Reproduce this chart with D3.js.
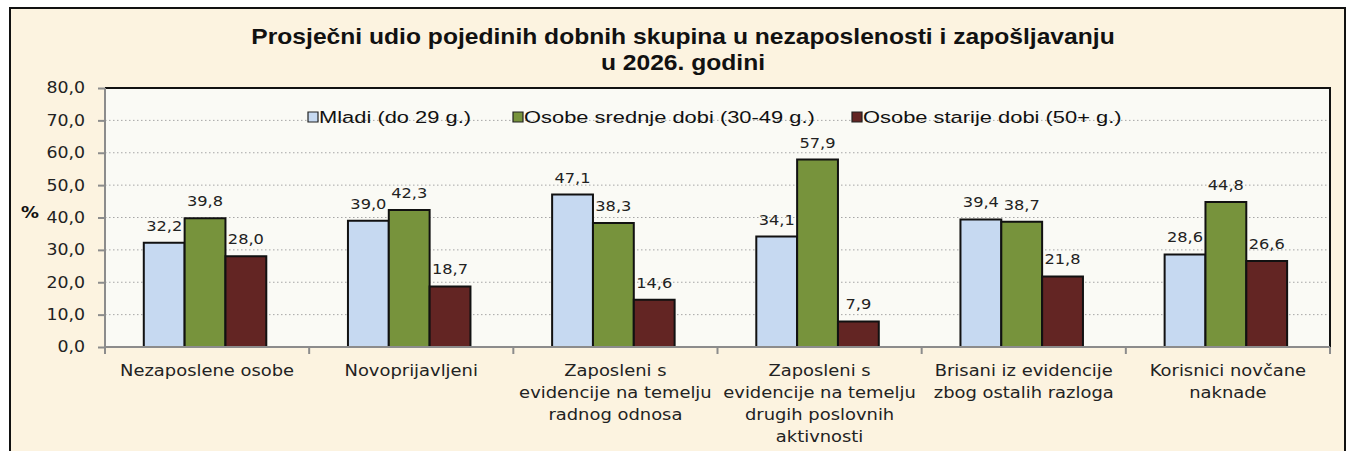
<!DOCTYPE html>
<html>
<head>
<meta charset="utf-8">
<script src="https://cdn.jsdelivr.net/npm/d3@7"></script>
<style>
  html, body { margin: 0; padding: 0; background: #fff; }
  svg { display: block; }
  .grid line { stroke: #a6a6a6; stroke-dasharray: 1.5 2.5; }
</style>
</head>
<body>
<div id="chart"></div>
<script>
// Data
const categories = [
  ['Nezaposlene osobe'],
  ['Novoprijavljeni'],
  ['Zaposleni s', 'evidencije na temelju', 'radnog odnosa'],
  ['Zaposleni s', 'evidencije na temelju', 'drugih poslovnih', 'aktivnosti'],
  ['Brisani iz evidencije', 'zbog ostalih razloga'],
  ['Korisnici novčane', 'naknade']
]
const seriesNames = ['Mladi (do 29 g.)', 'Osobe srednje dobi (30-49 g.)', 'Osobe starije dobi (50+ g.)']
const mladi = [32.2, 39.0, 47.1, 34.1, 39.4, 28.6]
const srednji = [39.8, 42.3, 38.3, 57.9, 38.7, 44.8]
const stariji = [28.0, 18.7, 14.6, 7.9, 21.8, 26.6]
const yTicks = [0, 10, 20, 30, 40, 50, 60, 70, 80]
const titleLines = ['Prosječni udio pojedinih dobnih skupina u nezaposlenosti i zapošljavanju', 'u 2026. godini']

const colors = ['#c6d9f1', '#77933c', '#632523']
const seriesValues = [mladi, srednji, stariji]

// The picture is stretched sideways, so draw in a narrower box and stretch it
const S = 1.12
const px = (x) => x / S
const width = 1348
const height = 451
const W = width / S

const plot = { left: px(105), right: px(1330), top: 88, bottom: 347 }

const svg = d3.select('#chart')
  .append('svg')
  .attr('width', width)
  .attr('height', height)
  .attr('viewBox', `0 0 ${W} ${height}`)
  .attr('preserveAspectRatio', 'none')

// Outer frame
svg.append('rect')
  .attr('x', px(10)).attr('y', 8)
  .attr('width', px(1335)).attr('height', 460)
  .attr('fill', '#fcf3e0')
  .attr('stroke', '#111')
  .attr('stroke-width', 2)
  .attr('vector-effect', 'non-scaling-stroke')

// Title
svg.append('text')
  .attr('text-anchor', 'middle')
  .style('font-family', '"Liberation Sans", Arial, sans-serif')
  .style('font-weight', 'bold')
  .style('font-size', '22px')
  .attr('fill', '#111')
  .selectAll('tspan')
  .data(titleLines)
  .join('tspan')
  .attr('x', px(683))
  .attr('y', (d, i) => 44 + i * 26)
  .text(d => d)

// Plot background
svg.append('rect')
  .attr('x', plot.left).attr('y', plot.top)
  .attr('width', plot.right - plot.left)
  .attr('height', plot.bottom - plot.top)
  .attr('fill', '#fafaf5')

// Scales
const x0 = d3.scaleBand()
  .domain(d3.range(categories.length))
  .range([plot.left, plot.right])
  .padding(0)

const x1 = d3.scaleBand()
  .domain(d3.range(seriesNames.length))
  .range([x0.bandwidth() * 0.19, x0.bandwidth() * 0.79])
  .padding(0)

const y = d3.scaleLinear()
  .domain([0, 80])
  .range([plot.bottom, plot.top])

// Gridlines
svg.append('g')
  .attr('class', 'grid')
  .selectAll('line')
  .data(yTicks.filter(t => t > 0 && t < 80))
  .join('line')
  .attr('x1', plot.left).attr('x2', plot.right)
  .attr('y1', d => y(d)).attr('y2', d => y(d))
  .attr('vector-effect', 'non-scaling-stroke')

// Top and right border of plot area
svg.append('path')
  .attr('d', `M${plot.left},${plot.top}H${plot.right}V${plot.bottom}`)
  .attr('fill', 'none')
  .attr('stroke', '#111')
  .attr('stroke-width', 2)
  .attr('vector-effect', 'non-scaling-stroke')

// Legend (sits on the plot, no box)
const legendX = [308, 513, 852]
const legend = svg.append('g')
  .selectAll('g')
  .data(seriesNames)
  .join('g')
  .attr('transform', (d, i) => `translate(${px(legendX[i])},117)`)

legend.append('rect')
  .attr('x', 0).attr('y', -5)
  .attr('width', px(10)).attr('height', 10)
  .attr('fill', (d, i) => colors[i])
  .attr('stroke', '#222')
  .attr('stroke-width', 1.2)
  .attr('vector-effect', 'non-scaling-stroke')

// legend font is a little wider than Arial in the picture
legend.append('text')
  .attr('transform', `translate(${px(11)},6) scale(1.15,1)`)
  .style('font-family', '"Liberation Sans", Arial, sans-serif')
  .style('font-size', '17px')
  .attr('fill', '#111')
  .text(d => d)

// Bars
const groups = svg.append('g')
  .selectAll('g')
  .data(categories)
  .join('g')
  .attr('transform', (d, i) => `translate(${x0(i)},0)`)

groups.selectAll('rect')
  .data((d, i) => seriesValues.map((vals, s) => ({ s, v: vals[i] })))
  .join('rect')
  .attr('x', d => x1(d.s))
  .attr('y', d => y(d.v))
  .attr('width', x1.bandwidth())
  .attr('height', d => y(0) - y(d.v))
  .attr('fill', d => colors[d.s])
  .attr('stroke', '#111')
  .attr('stroke-width', 2)
  .attr('vector-effect', 'non-scaling-stroke')

groups.selectAll('text.value')
  .data((d, i) => seriesValues.map((vals, s) => ({ s, v: vals[i] })))
  .join('text')
  .attr('class', 'value')
  .attr('x', d => x1(d.s) + x1.bandwidth() / 2)
  .attr('y', d => y(d.v) - 12)
  .attr('text-anchor', 'middle')
  .style('font-family', '"DejaVu Sans", Verdana, sans-serif')
  .style('font-size', '14.5px')
  .attr('fill', '#222')
  .text(d => d3.format('.1f')(d.v).replace('.', ','))

// Y axis
const yAxis = svg.append('g')
  .attr('transform', `translate(${plot.left},0)`)
  .call(d3.axisLeft(y)
    .tickValues(yTicks)
    .tickSize(px(7))
    .tickPadding(px(13))
    .tickFormat(d => d3.format('.1f')(d).replace('.', ',')))

yAxis.selectAll('path, line')
  .attr('stroke', '#8c8c8c')
  .attr('stroke-width', 2)
  .attr('vector-effect', 'non-scaling-stroke')
yAxis.select('.domain').attr('d', `M0,${plot.top}V${plot.bottom}`)
yAxis.selectAll('text')
  .style('font-family', '"DejaVu Sans", Verdana, sans-serif')
  .style('font-size', '15.5px')
  .attr('fill', '#222')

// X axis with ticks on category boundaries
const xAxis = svg.append('g')
  .attr('transform', `translate(0,${plot.bottom})`)

xAxis.append('line')
  .attr('x1', plot.left).attr('x2', plot.right)
  .attr('stroke', '#8c8c8c')
  .attr('stroke-width', 2)
  .attr('vector-effect', 'non-scaling-stroke')

xAxis.selectAll('line.tick')
  .data(d3.range(categories.length + 1))
  .join('line')
  .attr('class', 'tick')
  .attr('x1', i => i < categories.length ? x0(i) : plot.right)
  .attr('x2', i => i < categories.length ? x0(i) : plot.right)
  .attr('y1', 0).attr('y2', 7)
  .attr('stroke', '#8c8c8c')
  .attr('stroke-width', 2)
  .attr('vector-effect', 'non-scaling-stroke')

xAxis.selectAll('text')
  .data(categories)
  .join('text')
  .attr('text-anchor', 'middle')
  .style('font-family', '"DejaVu Sans", Verdana, sans-serif')
  .style('font-size', '16px')
  .attr('fill', '#222')
  .selectAll('tspan')
  .data((d, i) => d.map(line => ({ line, i })))
  .join('tspan')
  .attr('x', d => x0(d.i) + x0.bandwidth() / 2)
  .attr('y', (d, j) => 29 + j * 22)
  .text(d => d.line)

// Y axis unit
svg.append('text')
  .attr('x', px(30))
  .attr('y', 218)
  .attr('text-anchor', 'middle')
  .style('font-family', '"DejaVu Sans", Verdana, sans-serif')
  .style('font-weight', 'bold')
  .style('font-size', '16px')
  .attr('fill', '#111')
  .text('%')
</script>
</body>
</html>
